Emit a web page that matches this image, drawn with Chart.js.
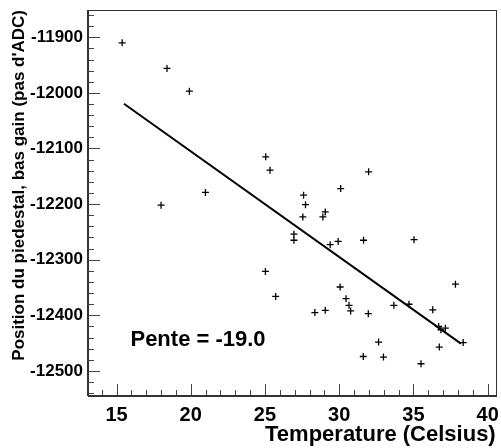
<!DOCTYPE html>
<html>
<head>
<meta charset="utf-8">
<script src="https://cdn.jsdelivr.net/npm/chart.js@4/dist/chart.umd.min.js"></script>
<style>
  html, body { margin: 0; padding: 0; background: #fff; }
  #wrap { width: 501px; height: 448px; }
</style>
</head>
<body>
<div id="wrap"><canvas id="pedestalChart" width="501" height="448"></canvas></div>
<script>
// Pedestal position (low gain, ADC counts) versus temperature
const tempC = [
  15.38, 18.40, 19.91, 25.05, 25.34, 20.99, 18.00, 31.98, 30.10, 27.60,
  27.73, 27.55, 29.06, 28.90, 26.95, 26.95, 25.03, 25.72, 29.39, 29.93,
  31.64, 35.04, 30.06, 30.46, 30.66, 30.77, 28.36, 29.06, 31.96, 33.68,
  34.70, 36.30, 36.70, 36.85, 37.15, 37.83, 38.35, 36.74, 32.65, 31.62,
  32.98, 35.51
];
const pedestal = [
  -11910, -11956, -11997, -12115, -12139, -12179, -12202, -12142, -12172, -12184,
  -12201, -12223, -12214, -12223, -12254, -12265, -12321, -12366, -12273, -12267,
  -12265, -12264, -12349, -12370, -12382, -12392, -12395, -12391, -12397, -12382,
  -12380, -12390, -12420, -12426, -12423, -12344, -12449, -12457, -12448, -12474,
  -12475, -12487
];

const xTicks = [15, 20, 25, 30, 35, 40];
const yTicks = [-12500, -12400, -12300, -12200, -12100, -12000, -11900];

// linear fit
const slope = -19.0;
const intercept = -11725;
const fitRange = [15.5, 38.2];

const xMin = 13.08, xMax = 40.54;
const yMin = -12545, yMax = -11851;

const fitLine = fitRange.map(t => ({ x: t, y: intercept + slope * t }));
const points = tempC.map((t, i) => ({ x: t, y: pedestal[i] }));

const FONT = '"Liberation Sans", Arial, Helvetica, sans-serif';

// frame, inward ticks and the slope label
const rootFrame = {
  id: 'rootFrame',
  afterDraw(chart) {
    const { ctx, chartArea: a, scales: { x, y } } = chart;
    ctx.save();
    ctx.strokeStyle = '#444';
    ctx.lineWidth = 1;
    ctx.beginPath();
    for (let v = 14; v <= 40; v++) {
      const px = Math.round(x.getPixelForValue(v)) + 0.5;
      const len = v % 5 === 0 ? 12 : 6;
      ctx.moveTo(px, a.bottom);
      ctx.lineTo(px, a.bottom - len);
    }
    for (let v = -12540; v <= -11860; v += 20) {
      const py = Math.round(y.getPixelForValue(v)) + 0.5;
      const len = v % 100 === 0 ? 12 : 6;
      ctx.moveTo(a.left, py);
      ctx.lineTo(a.left + len, py);
    }
    ctx.stroke();

    ctx.strokeStyle = '#333';
    ctx.strokeRect(Math.round(a.left) + 0.5, Math.round(a.top) + 0.5,
      Math.round(a.right - a.left), Math.round(a.bottom - a.top));
    ctx.lineWidth = 2;
    ctx.beginPath();
    ctx.moveTo(a.left, a.bottom);
    ctx.lineTo(a.right + 1, a.bottom);
    ctx.moveTo(a.left, a.bottom);
    ctx.lineTo(a.left, a.top);
    ctx.stroke();

    ctx.fillStyle = '#000';
    ctx.font = 'bold 22px ' + FONT;
    ctx.textAlign = 'left';
    ctx.textBaseline = 'middle';
    ctx.fillText('Pente = ' + slope.toFixed(1), x.getPixelForValue(15.94), y.getPixelForValue(-12444));
    ctx.restore();
  }
};

new Chart(document.getElementById('pedestalChart'), {
  type: 'scatter',
  data: {
    datasets: [
      {
        data: points,
        pointStyle: 'cross',
        pointRadius: 3.5,
        pointBorderWidth: 1.3,
        borderColor: '#000',
        backgroundColor: '#000'
      },
      {
        type: 'line',
        data: fitLine,
        borderColor: '#000',
        borderWidth: 2,
        pointRadius: 0,
        fill: false
      }
    ]
  },
  options: {
    responsive: false,
    animation: false,
    devicePixelRatio: 1,
    layout: { padding: { top: 10, right: 4, left: 0, bottom: 0 } },
    plugins: { legend: { display: false }, tooltip: { enabled: false } },
    scales: {
      x: {
        type: 'linear',
        min: xMin,
        max: xMax,
        afterFit(s) { s.height = 52; s.paddingLeft = 0; s.paddingRight = 0; },
        afterBuildTicks(s) { s.ticks = xTicks.map(v => ({ value: v })); },
        grid: { display: false, drawTicks: false },
        border: { display: false },
        ticks: {
          padding: 7,
          color: '#000',
          font: { family: FONT, size: 20, weight: 'bold' },
          maxRotation: 0
        },
        title: {
          display: true,
          text: 'Temperature (Celsius)',
          align: 'end',
          color: '#000',
          padding: { top: 0, bottom: 0 },
          font: { family: FONT, size: 22, weight: 'bold' }
        }
      },
      y: {
        type: 'linear',
        min: yMin,
        max: yMax,
        afterFit(s) { s.width = 88; s.paddingTop = 0; s.paddingBottom = 0; },
        afterBuildTicks(s) { s.ticks = yTicks.map(v => ({ value: v })); },
        grid: { display: false, drawTicks: false },
        border: { display: false },
        ticks: {
          padding: 5,
          color: '#000',
          font: { family: FONT, size: 17, weight: 'bold' },
          callback: v => String(v)
        },
        title: {
          display: true,
          text: "Position du piedestal, bas gain (pas d'ADC)",
          align: 'end',
          color: '#000',
          padding: { top: 9, bottom: 0 },
          font: { family: FONT, size: 17, weight: 'bold' }
        }
      }
    }
  },
  plugins: [rootFrame]
});
</script>
</body>
</html>
